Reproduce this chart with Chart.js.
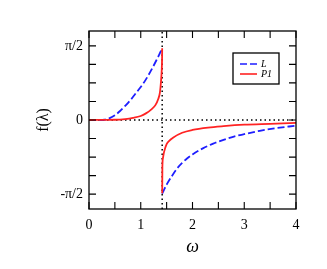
<!DOCTYPE html>
<html><head><meta charset="utf-8">
<script src="https://cdn.jsdelivr.net/npm/chart.js@4.4.1/dist/chart.umd.min.js"></script>
<style>html,body{margin:0;padding:0;background:#fff}#w{width:327px;height:269px}</style>
</head><body><div id="w"><canvas id="c"></canvas></div>
<script>
// Series L (blue dashed); null marks the break at omega = sqrt(2)
const omegaL = [0,0.2,0.3,0.4,0.5,0.6,0.7,0.8,0.9,1.0,1.1,1.2,1.3,1.35,1.40, null, 1.414,1.5,1.6,1.7,1.8,1.9,2.0,2.2,2.4,2.6,2.8,3.0,3.3,3.6,4.0];
const valL   = [0,0,0.005,0.04,0.10,0.19,0.30,0.42,0.56,0.70,0.86,1.05,1.26,1.37,1.49, null, -1.56,-1.37,-1.19,-1.03,-0.91,-0.81,-0.73,-0.60,-0.50,-0.42,-0.35,-0.30,-0.23,-0.175,-0.12];
// Series P1 (red solid)
const omegaP = [0,0.5,0.7,0.85,1.0,1.1,1.2,1.28,1.34,1.37,1.39,1.405,1.412,1.414, null, 1.4145,1.418,1.43,1.45,1.5,1.55,1.63,1.8,2.0,2.3,2.6,3.0,3.5,4.0];
const valP   = [0,0.005,0.02,0.045,0.085,0.14,0.22,0.31,0.45,0.58,0.80,1.05,1.30,1.52, null, -1.55,-1.0,-0.80,-0.68,-0.51,-0.44,-0.37,-0.27,-0.21,-0.16,-0.13,-0.10,-0.08,-0.06];
// Reference dotted lines
const vlineX = [Math.SQRT2, Math.SQRT2];
const vlineY = [-1.885, 1.885];
const hlineX = [0, 4];
const hlineY = [0, 0];
// Axis ticks
const xTicks = [0,0.5,1,1.5,2,2.5,3,3.5,4];
const xTickLabels = ['0','','1','','2','','3','','4'];
const yTicks = [-4,-3,-2,-1,0,1,2,3,4].map(k => k*Math.PI/8);
const yTickLabels = ['-π/2','','','','0','','','','π/2'];
const legendLabels = ['L','P1'];

const pts = (xs, ys) => xs.map((x,i) => (x===null ? {x:NaN, y:null} : {x:x, y:ys[i]}));
const BLUE = 'rgb(30,30,255)', RED = 'rgb(255,35,35)';
const SERIF = '"Liberation Serif","DejaVu Serif",serif';

const frame = {
  id:'frame',
  afterDraw(chart){
    const {ctx, chartArea:a, scales:{x,y}} = chart;
    ctx.save();
    ctx.strokeStyle='#000'; ctx.lineWidth=1.3;
    ctx.strokeRect(a.left, a.top, a.right-a.left, a.bottom-a.top);
    ctx.lineWidth=1.1;
    const L=7;
    ctx.beginPath();
    xTicks.forEach(v=>{const p=x.getPixelForValue(v);
      ctx.moveTo(p,a.bottom);ctx.lineTo(p,a.bottom-L);
      ctx.moveTo(p,a.top);ctx.lineTo(p,a.top+L);});
    yTicks.forEach(v=>{const p=y.getPixelForValue(v);
      ctx.moveTo(a.left,p);ctx.lineTo(a.left+L,p);
      ctx.moveTo(a.right,p);ctx.lineTo(a.right-L,p);});
    ctx.stroke();
    // axis titles
    ctx.fillStyle='#000';
    ctx.font='italic 18px '+SERIF;
    ctx.textAlign='center'; ctx.textBaseline='middle';
    ctx.fillText('ω', (a.left+a.right)/2, 247);
    ctx.save();
    ctx.translate(44,(a.top+a.bottom)/2);
    ctx.rotate(-Math.PI/2);
    ctx.font='16px '+SERIF;
    ctx.fillText('f(λ)',0,0);
    ctx.restore();
    // legend
    const bx=233, by=53, bw=46, bh=31;
    ctx.fillStyle='#fff'; ctx.fillRect(bx,by,bw,bh);
    ctx.lineWidth=1.3; ctx.strokeStyle='#000'; ctx.strokeRect(bx,by,bw,bh);
    const ds = chart.data.datasets;
    [0,1].forEach(i=>{
      const yy = by + 11 + i*10;
      ctx.strokeStyle = ds[i].borderColor; ctx.lineWidth = 1.6;
      ctx.setLineDash(ds[i].borderDash || []);
      ctx.beginPath(); ctx.moveTo(bx+7,yy); ctx.lineTo(bx+24,yy); ctx.stroke();
      ctx.setLineDash([]);
      ctx.fillStyle='#000'; ctx.font='italic 10px '+SERIF;
      ctx.textAlign='left'; ctx.fillText(legendLabels[i], bx+28, yy);
    });
    ctx.restore();
  }
};

new Chart(document.getElementById('c'), {
  type:'scatter',
  data:{datasets:[
    {label:legendLabels[0], data:pts(omegaL,valL), showLine:true, borderColor:BLUE, borderWidth:1.8, borderDash:[7,3], pointRadius:0, cubicInterpolationMode:'monotone', spanGaps:false, order:2},
    {label:legendLabels[1], data:pts(omegaP,valP), showLine:true, borderColor:RED, borderWidth:1.8, pointRadius:0, cubicInterpolationMode:'monotone', spanGaps:false, order:1},
    {data:pts(vlineX,vlineY), showLine:true, borderColor:'#000', borderWidth:1.5, borderDash:[1.5,3], pointRadius:0, order:3},
    {data:pts(hlineX,hlineY), showLine:true, borderColor:'#000', borderWidth:1.5, borderDash:[1.5,3], pointRadius:0, order:3}
  ]},
  options:{
    responsive:true, maintainAspectRatio:false, animation:false,
    layout:{padding:{left:0,top:31,right:31,bottom:0}},
    plugins:{legend:{display:false}, tooltip:{enabled:false}},
    scales:{
      x:{type:'linear', min:0, max:4,
        afterBuildTicks:s=>{s.ticks=xTicks.map(v=>({value:v}));},
        afterFit:s=>{s.height=60;},
        grid:{display:false, drawTicks:false}, border:{display:false},
        ticks:{padding:8, color:'#000', font:{family:SERIF,size:14}, maxRotation:0, autoSkip:false,
          callback:(v)=>{const i=xTicks.indexOf(v);return i>=0?xTickLabels[i]:'';}}},
      y:{type:'linear', min:-1.885, max:1.885,
        afterBuildTicks:s=>{s.ticks=yTicks.map(v=>({value:v}));},
        afterFit:s=>{s.width=89;},
        grid:{display:false, drawTicks:false}, border:{display:false},
        ticks:{padding:6, color:'#000', font:{family:SERIF,size:14}, autoSkip:false,
          callback:(v)=>{const i=yTicks.findIndex(t=>Math.abs(t-v)<1e-6);return i>=0?yTickLabels[i]:'';}}}
    }
  },
  plugins:[frame]
});
</script></body></html>
